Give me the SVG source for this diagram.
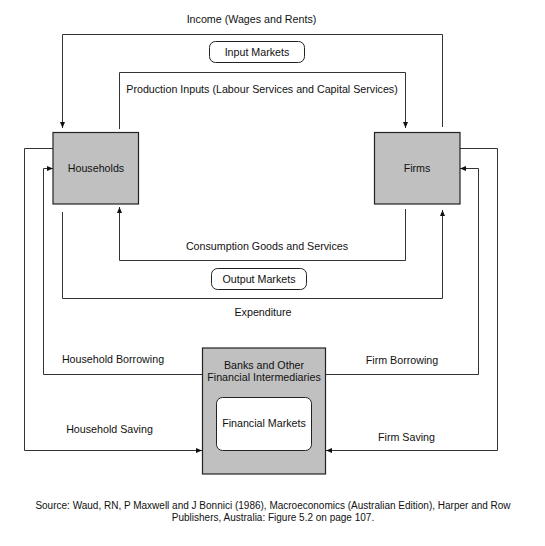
<svg xmlns="http://www.w3.org/2000/svg" width="545" height="546" viewBox="0 0 545 546">
<defs>
<marker id="ah" viewBox="0 0 6 6" refX="6" refY="3" markerWidth="6" markerHeight="6" orient="auto" markerUnits="userSpaceOnUse">
<path d="M0,0.5 L6,3 L0,5.5 Z" fill="#111"/>
</marker>
</defs>
<style>
text{font-family:"Liberation Sans",Arial,Helvetica,sans-serif;font-size:10.7px;fill:#111;text-anchor:middle}
.box{fill:#c0c0c0;stroke:#222;stroke-width:1.2}
.mk{fill:#fff;stroke:#222;stroke-width:1}
.c{fill:none;stroke:#333;stroke-width:1;marker-end:url(#ah)}
.src{font-size:10px}
</style>
<rect width="545" height="546" fill="#fff"/>
<g id="connectors">
<path class="c" d="M442.5,127 V34.5 H62.5 V128"/>
<path class="c" d="M119.5,129 V72.5 H405.5 V128"/>
<path class="c" d="M405.5,209 V260.5 H119.5 V207"/>
<path class="c" d="M62.5,212 V298.5 H442.5 V210"/>
<path class="c" d="M53,148.5 H24.5 V450.5 H202"/>
<path class="c" d="M460,148.5 H497.5 V450.5 H326"/>
<path class="c" d="M202,374.5 H43.5 V168.5 H53"/>
<path class="c" d="M326,374.5 H478.5 V168.5 H460"/>
</g>
<g id="labels">
<text x="251.5" y="23">Income (Wages and Rents)</text>
<text x="262" y="93">Production Inputs (Labour Services and Capital Services)</text>
<text x="267" y="250">Consumption Goods and Services</text>
<text x="263" y="316">Expenditure</text>
<text x="113" y="363">Household Borrowing</text>
<text x="402" y="364">Firm Borrowing</text>
<text x="109.5" y="433">Household Saving</text>
<text x="406.5" y="441">Firm Saving</text>
</g>
<g id="input-markets">
<rect class="mk" x="209.5" y="41.5" width="95" height="21" rx="6"/>
<text x="257" y="56">Input Markets</text>
</g>
<g id="output-markets">
<rect class="mk" x="211.5" y="268.5" width="95" height="21" rx="6"/>
<text x="259" y="283">Output Markets</text>
</g>
<g id="households">
<rect class="box" x="53" y="132.5" width="85.5" height="71.5"/>
<text x="96" y="172">Households</text>
</g>
<g id="firms">
<rect class="box" x="374.5" y="132.5" width="85.5" height="71.5"/>
<text x="417" y="172">Firms</text>
</g>
<g id="banks">
<rect class="box" x="202.5" y="348" width="123" height="126"/>
<text x="264" y="369">Banks and Other</text>
<text x="264" y="381">Financial Intermediaries</text>
</g>
<g id="financial-markets">
<rect class="mk" x="216.5" y="397.5" width="95" height="53" rx="6"/>
<text x="264" y="427">Financial Markets</text>
</g>
<g id="source">
<text class="src" x="273" y="509">Source: Waud, RN, P Maxwell and J Bonnici (1986), Macroeconomics (Australian Edition), Harper and Row</text>
<text class="src" x="273" y="521">Publishers, Australia: Figure 5.2 on page 107.</text>
</g>
</svg>
